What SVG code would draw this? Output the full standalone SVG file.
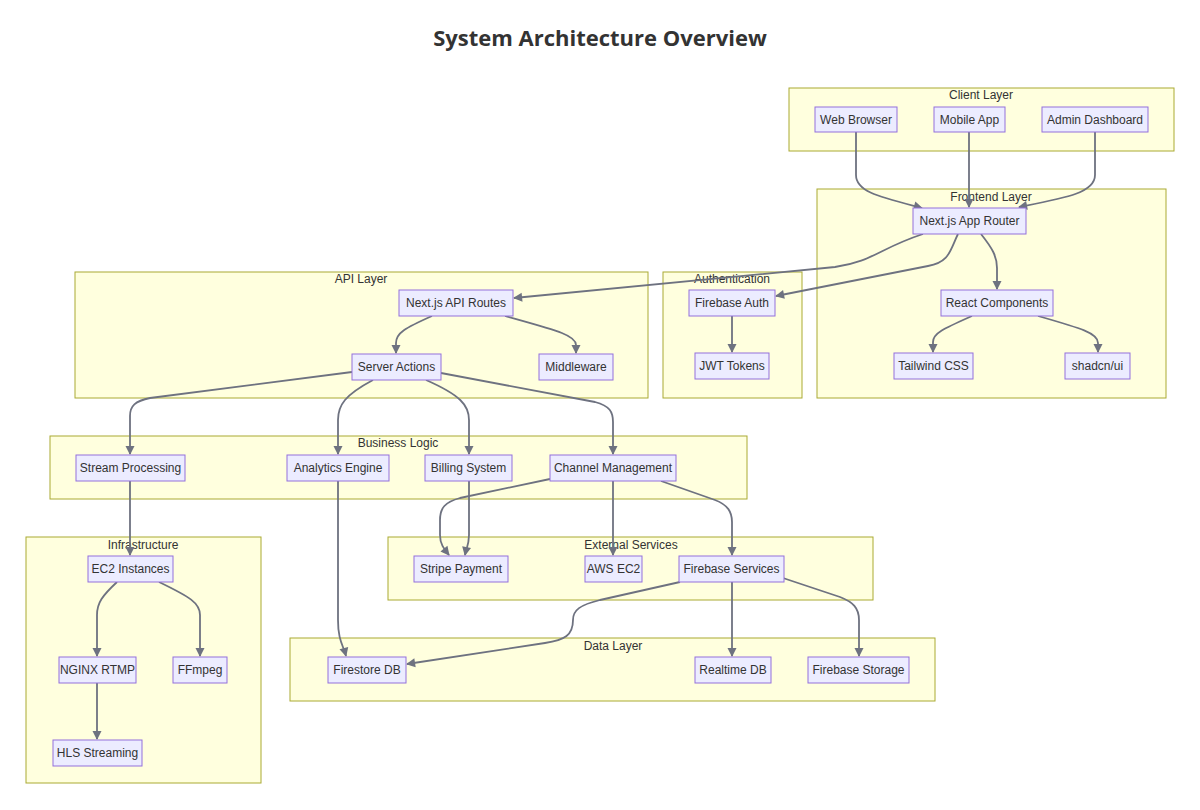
<svg xmlns="http://www.w3.org/2000/svg" width="1200" height="810" viewBox="0 0 1200 810">
<style>
  .bg { fill: #ffffff; }
  .title { font-family: "Open Sans", "Liberation Sans", sans-serif; font-weight: bold; font-size: 22px; fill: #333333; text-anchor: middle; }
  .cluster rect { fill: #ffffde; stroke: #aaaa33; stroke-width: 1; }
  .cluster text { font-family: "Liberation Sans", Arial, sans-serif; font-size: 12px; fill: #333333; text-anchor: middle; }
  .node rect { fill: #ececff; stroke: #9370db; stroke-width: 1; }
  .node text { font-family: "Liberation Sans", Arial, sans-serif; font-size: 12px; fill: #333333; text-anchor: middle; dominant-baseline: central; }
  .edges path { fill: none; stroke: #6e7280; stroke-width: 1.8; marker-end: url(#arrow); }
</style>
<defs>
  <marker id="arrow" viewBox="0 0 10 10" refX="9" refY="5" markerWidth="9" markerHeight="9" markerUnits="userSpaceOnUse" orient="auto" style="overflow:visible">
    <path d="M0,0 L10,5 L0,10 z" fill="#6e7280"/>
  </marker>
</defs>
<rect class="bg" x="0" y="0" width="1200" height="810"/>
<text class="title" x="600" y="46">System Architecture Overview</text>

<g id="clusters">
  <g id="cluster-client" class="cluster"><rect x="789" y="88" width="385" height="63"/><text x="981" y="99">Client Layer</text></g>
  <g id="cluster-frontend" class="cluster"><rect x="817" y="189" width="349" height="209"/><text x="991" y="201">Frontend Layer</text></g>
  <g id="cluster-auth" class="cluster"><rect x="663" y="272" width="139" height="126"/><text x="732" y="283">Authentication</text></g>
  <g id="cluster-api" class="cluster"><rect x="75" y="272" width="573" height="126"/><text x="361" y="283">API Layer</text></g>
  <g id="cluster-business" class="cluster"><rect x="50" y="436" width="697" height="63"/><text x="398" y="447">Business Logic</text></g>
  <g id="cluster-external" class="cluster"><rect x="388" y="537" width="485" height="63"/><text x="631" y="549">External Services</text></g>
  <g id="cluster-infra" class="cluster"><rect x="26" y="537" width="235" height="246"/><text x="143" y="549">Infrastructure</text></g>
  <g id="cluster-data" class="cluster"><rect x="290" y="638" width="645" height="63"/><text x="613" y="650">Data Layer</text></g>
</g>

<g class="edges" id="edges">
  <path d="M856,132 V175 C856,192 880,197 922,208"/>
  <path d="M969,132 V207"/>
  <path d="M1095,132 V175 C1095,193 1065,198 1019,207"/>
  <path d="M923,234 C880,248 872,262 835,267 L514,298"/>
  <path d="M958,234 C950,250 950,262 928,266 L776,296"/>
  <path d="M981,234 C992,248 997,256 997,268 V289"/>
  <path d="M732,316 V352"/>
  <path d="M972,316 C945,328 933,333 933,342 V352"/>
  <path d="M1038,316 C1080,328 1098,333 1098,343 V352"/>
  <path d="M432,316 C405,328 396,333 396,343 V353"/>
  <path d="M505,316 C555,330 576,335 576,345 V353"/>
  <path d="M352,372 L150,398 C135,401 130,406 130,416 V454"/>
  <path d="M373,380 C345,395 338,405 338,420 V454"/>
  <path d="M426,380 C460,395 469,405 469,420 V454"/>
  <path d="M441,373 L595,402 C610,406 613,412 613,422 V454"/>
  <path d="M130,481 V555"/>
  <path d="M338,481 V620 C338,640 343,645 346,656"/>
  <path d="M550,479 L460,498 C445,502 440,508 440,520 V535 C440,545 445,550 449,555"/>
  <path d="M469,481 V535 C469,545 466,550 465,555"/>
  <path d="M613,481 V555"/>
  <path d="M661,481 L715,500 C728,505 732,512 732,522 V555"/>
  <path d="M680,582 L600,600 C580,605 573,610 573,620 C573,635 565,640 545,643 L407,664"/>
  <path d="M732,582 V656"/>
  <path d="M783,578 L840,597 C853,602 859,608 859,620 V656"/>
  <path d="M117,582 C102,596 97,603 97,615 V656"/>
  <path d="M159,582 C190,597 200,603 200,615 V656"/>
  <path d="M97,683 V739"/>
</g>

<g id="nodes">
  <g id="web-browser" class="node"><rect x="815" y="107" width="82" height="25"/><text x="856" y="119.5">Web Browser</text></g>
  <g id="mobile-app" class="node"><rect x="934" y="107" width="71" height="25"/><text x="969.5" y="119.5">Mobile App</text></g>
  <g id="admin-dashboard" class="node"><rect x="1042" y="107" width="106" height="25"/><text x="1095" y="119.5">Admin Dashboard</text></g>
  <g id="app-router" class="node"><rect x="913" y="208" width="113" height="26"/><text x="969.5" y="221">Next.js App Router</text></g>
  <g id="react-components" class="node"><rect x="941" y="290" width="112" height="26"/><text x="997" y="303">React Components</text></g>
  <g id="tailwind" class="node"><rect x="894" y="353" width="79" height="26"/><text x="933.5" y="366">Tailwind CSS</text></g>
  <g id="shadcn" class="node"><rect x="1065" y="353" width="65" height="26"/><text x="1097.5" y="366">shadcn/ui</text></g>
  <g id="firebase-auth" class="node"><rect x="689" y="290" width="86" height="26"/><text x="732" y="303">Firebase Auth</text></g>
  <g id="jwt-tokens" class="node"><rect x="695" y="353" width="74" height="26"/><text x="732" y="366">JWT Tokens</text></g>
  <g id="api-routes" class="node"><rect x="399" y="290" width="114" height="26"/><text x="456" y="303">Next.js API Routes</text></g>
  <g id="server-actions" class="node"><rect x="352" y="354" width="89" height="26"/><text x="396.5" y="367">Server Actions</text></g>
  <g id="middleware" class="node"><rect x="539" y="354" width="74" height="26"/><text x="576" y="367">Middleware</text></g>
  <g id="stream-processing" class="node"><rect x="76" y="455" width="109" height="26"/><text x="130.5" y="468">Stream Processing</text></g>
  <g id="analytics-engine" class="node"><rect x="287" y="455" width="102" height="26"/><text x="338" y="468">Analytics Engine</text></g>
  <g id="billing-system" class="node"><rect x="425" y="455" width="87" height="26"/><text x="468.5" y="468">Billing System</text></g>
  <g id="channel-management" class="node"><rect x="550" y="455" width="126" height="26"/><text x="613" y="468">Channel Management</text></g>
  <g id="stripe-payment" class="node"><rect x="414" y="556" width="94" height="26"/><text x="461" y="569">Stripe Payment</text></g>
  <g id="aws-ec2" class="node"><rect x="585" y="556" width="57" height="26"/><text x="613.5" y="569">AWS EC2</text></g>
  <g id="firebase-services" class="node"><rect x="679" y="556" width="105" height="26"/><text x="731.5" y="569">Firebase Services</text></g>
  <g id="ec2-instances" class="node"><rect x="88" y="556" width="85" height="26"/><text x="130.5" y="569">EC2 Instances</text></g>
  <g id="nginx-rtmp" class="node"><rect x="59" y="657" width="77" height="26"/><text x="97.5" y="670">NGINX RTMP</text></g>
  <g id="ffmpeg" class="node"><rect x="173" y="657" width="54" height="26"/><text x="200" y="670">FFmpeg</text></g>
  <g id="hls-streaming" class="node"><rect x="53" y="740" width="89" height="26"/><text x="97.5" y="753">HLS Streaming</text></g>
  <g id="firestore-db" class="node"><rect x="328" y="657" width="78" height="26"/><text x="367" y="670">Firestore DB</text></g>
  <g id="realtime-db" class="node"><rect x="695" y="657" width="76" height="26"/><text x="733" y="670">Realtime DB</text></g>
  <g id="firebase-storage" class="node"><rect x="808" y="657" width="101" height="26"/><text x="858.5" y="670">Firebase Storage</text></g>
</g>
</svg>
